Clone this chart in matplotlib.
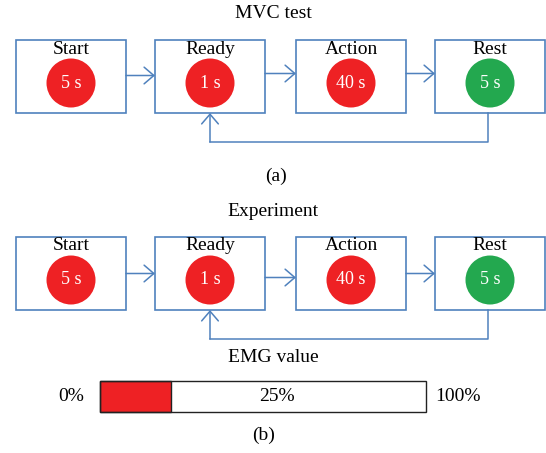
import matplotlib.pyplot as plt
from matplotlib.patches import Rectangle, Circle

stages = ['Start', 'Ready', 'Action', 'Rest']
durations = ['5 s', '1 s', '40 s', '5 s']
dot_colors = ['#ee2124', '#ee2124', '#ee2124', '#23a84f']
panel_titles = ['MVC test', 'Experiment']
panel_tags = ['(a)', '(b)']
emg_percent = 25

blue = '#4f81bd'
plt.rcParams['font.family'] = ['Liberation Serif', 'DejaVu Serif']

fig = plt.figure(figsize=(5.46, 4.53), dpi=100)
ax = fig.add_axes([0, 0, 1, 1])
ax.set_xlim(0, 546)
ax.set_ylim(453, 0)
ax.axis('off')

box_x = [16, 155, 296, 435]
box_w = 110
box_h = 73
arrow_dy = [[-1, -3, -3], [0, 4, 0]]


def draw_panel(top, title, k):
    ax.text(273, top - 26, title, ha='center', va='center', fontsize=14)
    for i, name in enumerate(stages):
        x = box_x[i]
        ax.add_patch(Rectangle((x, top), box_w, box_h, fill=False,
                               edgecolor=blue, lw=1.2))
        cx = x + box_w / 2
        ax.text(cx, top + 9, name, ha='center', va='center', fontsize=14)
        ax.add_patch(Circle((cx, top + 43), 24.5, color=dot_colors[i], lw=0))
        ax.text(cx, top + 43, durations[i], ha='center', va='center',
                fontsize=13, color='white')
    # forward arrows
    for i in range(3):
        y = top + box_h / 2 + arrow_dy[k][i]
        ax.annotate('', xy=(box_x[i + 1], y), xytext=(box_x[i] + box_w, y),
                    arrowprops=dict(arrowstyle='->,head_length=0.35,head_width=0.3',
                                    color=blue, lw=1.1,
                                    mutation_scale=20, shrinkA=0, shrinkB=0))
    # loop back from Rest to Ready
    loop_y = top + box_h + 29
    rx = box_x[3] + box_w / 2 - 2
    lx = box_x[1] + box_w / 2
    ax.plot([rx, rx, lx], [top + box_h, loop_y, loop_y], color=blue, lw=1.1)
    ax.annotate('', xy=(lx, top + box_h), xytext=(lx, loop_y),
                arrowprops=dict(arrowstyle='->,head_length=0.35,head_width=0.3',
                                color=blue, lw=1.1,
                                mutation_scale=20, shrinkA=0, shrinkB=0))


draw_panel(40, panel_titles[0], 0)
ax.text(276, 176, panel_tags[0], ha='center', va='center', fontsize=14)

draw_panel(237, panel_titles[1], 1)

# EMG bar
ax.text(273, 357, 'EMG value', ha='center', va='center', fontsize=14)
bar_x0, bar_x1, bar_y, bar_h = 100, 426, 381, 31
scale = (bar_x1 - bar_x0) / 100
ax.add_patch(Rectangle((bar_x0, bar_y), emg_percent * scale * 0.87, bar_h,
                       facecolor='#ee2124', edgecolor='#222222', lw=1.0))
ax.add_patch(Rectangle((bar_x0, bar_y), bar_x1 - bar_x0, bar_h,
                       fill=False, edgecolor='#222222', lw=1.0))
ax.text(277, bar_y + bar_h / 2, f'{emg_percent}%', ha='center', va='center',
        fontsize=14)
ax.text(71, bar_y + bar_h / 2, '0%', ha='center', va='center', fontsize=14)
ax.text(458, bar_y + bar_h / 2, '100%', ha='center', va='center', fontsize=14)
ax.text(264, 435, panel_tags[1], ha='center', va='center', fontsize=14)

fig.savefig('out.png', dpi=100)
